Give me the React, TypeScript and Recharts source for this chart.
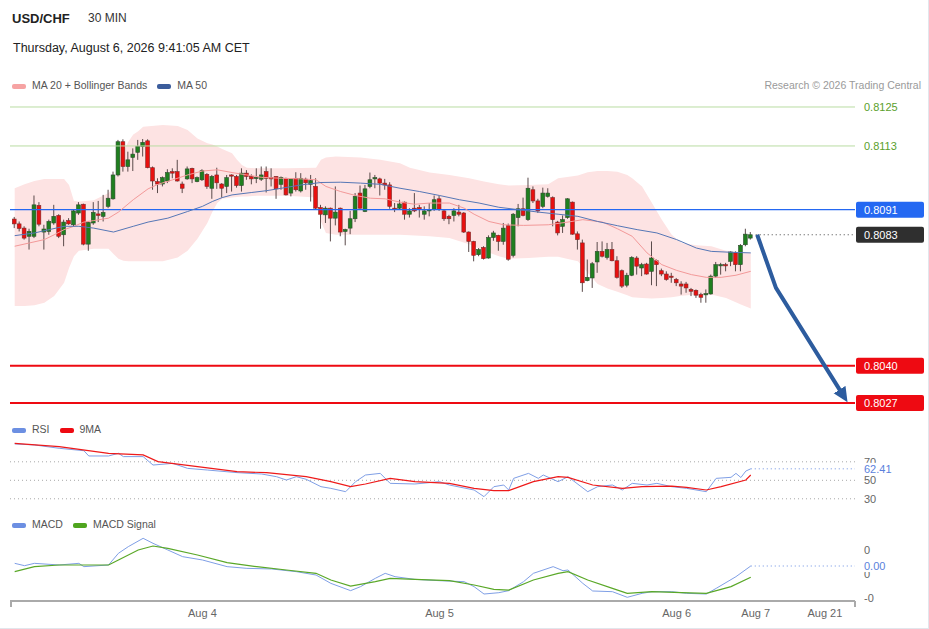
import React from "react";
import {
  ComposedChart,
  Bar,
  Line,
  Area,
  XAxis,
  YAxis,
  ReferenceLine,
} from "recharts";

const FONT = '"Liberation Sans", Arial, Helvetica, sans-serif';

// 30 min candles, Aug 3 morning -> Aug 6 09:30
const candleOpen = [
  0.80879, 0.80863, 0.80849, 0.80822, 0.80822, 0.80924, 0.80836, 0.80838, 0.80866, 0.80891,
  0.80827, 0.80874, 0.8086, 0.80899, 0.80928, 0.80796, 0.80866, 0.80896, 0.80888, 0.80921,
  0.80946, 0.81025, 0.81135, 0.81053, 0.81083, 0.811, 0.81119, 0.81138, 0.81049, 0.81003,
  0.80995, 0.81005, 0.81036, 0.81036, 0.80995, 0.81012, 0.81047, 0.81003, 0.81009, 0.81027,
  0.80981, 0.81025, 0.80995, 0.80987, 0.81025, 0.8102, 0.8099, 0.81031, 0.8102, 0.81014,
  0.81011, 0.81036, 0.81016, 0.8102, 0.80994, 0.81014, 0.80965, 0.81014, 0.80972, 0.81011,
  0.80994, 0.80987, 0.80917, 0.80893, 0.80915, 0.80882, 0.80915, 0.80838, 0.80849, 0.8088,
  0.80965, 0.80904, 0.80987, 0.81012, 0.81012, 0.80998, 0.80992, 0.80915, 0.80915, 0.80935,
  0.80895, 0.80915, 0.80917, 0.80895, 0.80906, 0.8091, 0.80946, 0.80906, 0.80888, 0.80891,
  0.80902, 0.80899, 0.80836, 0.80805, 0.80761, 0.80785, 0.8075, 0.80818, 0.80825, 0.80805,
  0.80857, 0.80759, 0.80884, 0.80913, 0.80877, 0.80976, 0.80939, 0.80921, 0.80954, 0.8095,
  0.80869, 0.80855, 0.80884, 0.80935, 0.8083, 0.808, 0.80675, 0.80684, 0.80737, 0.80772,
  0.80752, 0.80778, 0.80741, 0.80708, 0.8066, 0.80693, 0.8075, 0.80717, 0.8073, 0.80706,
  0.80741, 0.80708, 0.80697, 0.8069, 0.80679, 0.80664, 0.80664, 0.80646, 0.80643, 0.80629,
  0.80629, 0.80631, 0.8069, 0.80725, 0.80728, 0.80739, 0.80767, 0.80728, 0.80794, 0.80816,
];
const candleHigh = [
  0.80886, 0.80871, 0.80855, 0.80847, 0.80957, 0.80935, 0.8086, 0.80877, 0.80926, 0.80895,
  0.80877, 0.80882, 0.8091, 0.80935, 0.8093, 0.80871, 0.80935, 0.80939, 0.80959, 0.80976,
  0.81036, 0.81141, 0.81143, 0.81102, 0.81113, 0.81141, 0.81144, 0.81143, 0.81053, 0.81014,
  0.8102, 0.81044, 0.81047, 0.81075, 0.81003, 0.81053, 0.81049, 0.8102, 0.81044, 0.81031,
  0.81025, 0.81049, 0.80998, 0.81025, 0.81027, 0.81025, 0.81047, 0.81041, 0.81027, 0.81047,
  0.81053, 0.81053, 0.81047, 0.81021, 0.8102, 0.81016, 0.81014, 0.81034, 0.81031, 0.81016,
  0.81025, 0.81014, 0.80926, 0.80921, 0.80917, 0.80987, 0.80917, 0.80847, 0.80906, 0.80965,
  0.8099, 0.80992, 0.81033, 0.81025, 0.81016, 0.81012, 0.81001, 0.80932, 0.80943, 0.80937,
  0.80915, 0.80965, 0.80926, 0.80921, 0.80932, 0.80957, 0.80957, 0.8091, 0.80893, 0.80915,
  0.80926, 0.80902, 0.80838, 0.80807, 0.80783, 0.80789, 0.80825, 0.8084, 0.80827, 0.80866,
  0.80864, 0.80899, 0.80929, 0.8095, 0.81016, 0.80987, 0.80946, 0.80983, 0.80981, 0.80954,
  0.80873, 0.80891, 0.80948, 0.80937, 0.80838, 0.80811, 0.80745, 0.80737, 0.80803, 0.80805,
  0.808, 0.80803, 0.80756, 0.80712, 0.80701, 0.80756, 0.80756, 0.80734, 0.80734, 0.80805,
  0.80745, 0.80715, 0.80706, 0.80701, 0.80684, 0.80673, 0.80671, 0.80651, 0.80646, 0.80635,
  0.80646, 0.80695, 0.80737, 0.80734, 0.80734, 0.80772, 0.80772, 0.80796, 0.80847, 0.80836,
];
const candleLow = [
  0.80849, 0.80838, 0.80811, 0.80778, 0.80816, 0.80855, 0.80778, 0.80827, 0.8086, 0.80816,
  0.80789, 0.8086, 0.80855, 0.80893, 0.80792, 0.80774, 0.8086, 0.80869, 0.80871, 0.80915,
  0.80943, 0.8102, 0.81036, 0.81036, 0.81038, 0.81075, 0.81086, 0.81047, 0.80976, 0.80965,
  0.80987, 0.80998, 0.81014, 0.81003, 0.80965, 0.81009, 0.80998, 0.81001, 0.81005, 0.80979,
  0.80946, 0.80979, 0.8095, 0.80965, 0.8097, 0.80983, 0.8097, 0.81009, 0.80994, 0.80998,
  0.81005, 0.80967, 0.80987, 0.80946, 0.80976, 0.80957, 0.80954, 0.8097, 0.80967, 0.80976,
  0.80937, 0.8091, 0.80847, 0.80866, 0.80805, 0.80858, 0.80822, 0.80792, 0.80829, 0.80869,
  0.80913, 0.80902, 0.80981, 0.80981, 0.80957, 0.80976, 0.80913, 0.80902, 0.8091, 0.80877,
  0.80884, 0.80902, 0.80884, 0.80877, 0.80888, 0.80906, 0.80906, 0.80873, 0.80862, 0.80871,
  0.80888, 0.80833, 0.8077, 0.80739, 0.80756, 0.80745, 0.80748, 0.80807, 0.80774, 0.80794,
  0.80741, 0.80752, 0.80855, 0.80888, 0.80873, 0.80932, 0.80899, 0.80915, 0.8095, 0.80855,
  0.80825, 0.80833, 0.8088, 0.80827, 0.80778, 0.80638, 0.80673, 0.80651, 0.80701, 0.80752,
  0.80745, 0.80739, 0.80682, 0.80651, 0.80653, 0.8069, 0.80695, 0.8069, 0.80695, 0.8066,
  0.80657, 0.8069, 0.80675, 0.80668, 0.80657, 0.80629, 0.80635, 0.80624, 0.80618, 0.80602,
  0.80602, 0.80629, 0.80684, 0.80695, 0.80706, 0.80723, 0.80706, 0.80706, 0.80789, 0.80811,
];
const candleClose = [
  0.80863, 0.80848, 0.80816, 0.80838, 0.80926, 0.80862, 0.80846, 0.80871, 0.80888, 0.80822,
  0.80869, 0.80863, 0.80906, 0.80926, 0.80796, 0.80868, 0.80901, 0.80891, 0.80901, 0.80948,
  0.81025, 0.81135, 0.81053, 0.81075, 0.81094, 0.8112, 0.81133, 0.81049, 0.81005, 0.80995,
  0.81016, 0.81033, 0.81031, 0.81005, 0.80981, 0.81045, 0.81012, 0.81016, 0.81039, 0.80987,
  0.8102, 0.80999, 0.80981, 0.81016, 0.81022, 0.8099, 0.81031, 0.8102, 0.81012, 0.81017,
  0.81025, 0.81014, 0.81012, 0.80979, 0.81017, 0.80959, 0.81012, 0.80976, 0.81014, 0.80999,
  0.81006, 0.80915, 0.80895, 0.80915, 0.80882, 0.80902, 0.80836, 0.80844, 0.8088, 0.80954,
  0.80915, 0.80979, 0.81009, 0.81016, 0.80998, 0.80992, 0.80921, 0.8091, 0.80929, 0.80895,
  0.80906, 0.80906, 0.8091, 0.80906, 0.8091, 0.80943, 0.8091, 0.8088, 0.8088, 0.80906,
  0.80895, 0.80836, 0.80805, 0.80759, 0.80778, 0.80748, 0.80818, 0.80833, 0.80805, 0.80849,
  0.80746, 0.80895, 0.80913, 0.80891, 0.80981, 0.80939, 0.80906, 0.80965, 0.80965, 0.80877,
  0.80833, 0.80877, 0.80946, 0.80829, 0.80811, 0.80668, 0.80686, 0.80731, 0.80772, 0.80756,
  0.80778, 0.80741, 0.80686, 0.80657, 0.80693, 0.80752, 0.80723, 0.80728, 0.80697, 0.8075,
  0.80728, 0.80697, 0.80679, 0.80686, 0.80668, 0.80657, 0.80651, 0.8064, 0.80627, 0.8062,
  0.80632, 0.8069, 0.80728, 0.80728, 0.80724, 0.8077, 0.80728, 0.80792, 0.80829, 0.80827,
];

// Bollinger bands (20) sampled at candle indices
const bbIdx = [
  0, 2, 4, 6, 8, 10, 11, 12, 13, 16, 19, 20, 21, 22, 23, 24, 25, 26, 30, 33, 35, 37, 39, 40,
  41, 42, 44, 45, 46, 47, 49, 55, 61, 62, 63, 65, 70, 74, 78, 80, 84, 88, 92, 95, 98, 100,
  104, 108, 110, 114, 116, 118, 120, 122, 124, 125, 127, 129, 131, 133, 135, 138, 141, 144,
  147, 149,
];
const bbUpper = [
  0.80981, 0.80994, 0.81005, 0.81012, 0.81012, 0.81012, 0.80992, 0.80939, 0.80937, 0.80941,
  0.80965, 0.80987, 0.81047, 0.81102, 0.81135, 0.81159, 0.8117, 0.81185, 0.8119, 0.81187,
  0.81174, 0.81146, 0.8113, 0.81126, 0.81119, 0.81111, 0.81097, 0.81075, 0.81058, 0.81049,
  0.81047, 0.81047, 0.81049, 0.81075, 0.81083, 0.81086, 0.81083, 0.81075, 0.81064, 0.81049,
  0.81033, 0.81025, 0.81014, 0.81003, 0.80994, 0.8099, 0.80992, 0.80994, 0.81014, 0.81023,
  0.81034, 0.81038, 0.81038, 0.81036, 0.81025, 0.81014, 0.80987, 0.80932, 0.80877, 0.80827,
  0.808, 0.80792, 0.80789, 0.80774, 0.80769, 0.80767,
];
const bbLower = [
  0.80591, 0.80591, 0.80594, 0.80602, 0.80624, 0.80668, 0.80717, 0.80756, 0.80774, 0.80781,
  0.80781, 0.80763, 0.80748, 0.80741, 0.80739, 0.80739, 0.80739, 0.80739, 0.80739, 0.80752,
  0.80774, 0.80814, 0.80866, 0.80902, 0.80932, 0.80946, 0.8095, 0.80952, 0.80954, 0.80954,
  0.80956, 0.80956, 0.8095, 0.80871, 0.80833, 0.80827, 0.80827, 0.80827, 0.80827, 0.80825,
  0.80822, 0.80816, 0.80796, 0.80774, 0.80756, 0.80748, 0.8075, 0.80754, 0.80754, 0.80739,
  0.80701, 0.80664, 0.80649, 0.80638, 0.80627, 0.8062, 0.80618, 0.80616, 0.80618, 0.8062,
  0.80625, 0.80629, 0.80629, 0.80618, 0.80596, 0.80583,
];

const ma20Idx = [
  0, 3, 6, 8, 10, 12, 14, 16, 19, 21, 24, 27, 29, 32, 35, 38, 41, 44, 47, 50, 54, 58, 61, 63,
  66, 69, 72, 75, 78, 81, 84, 88, 91, 93, 96, 99, 103, 108, 112, 115, 119, 122, 125, 128, 131,
  134, 137, 140, 143, 146, 149,
];
const ma20Val = [
  0.80789, 0.808, 0.80811, 0.80827, 0.80844, 0.80855, 0.80869, 0.80874, 0.80882, 0.80902,
  0.80943, 0.80979, 0.80994, 0.81009, 0.81025, 0.81038, 0.81042, 0.81033, 0.81025, 0.81017,
  0.81014, 0.81012, 0.81009, 0.80987, 0.8097, 0.80957, 0.80948, 0.80946, 0.80935, 0.80928,
  0.80932, 0.80932, 0.80915, 0.80895, 0.80871, 0.8086, 0.80858, 0.8086, 0.80869, 0.80877,
  0.80869, 0.80847, 0.80822, 0.80767, 0.80728, 0.80709, 0.80695, 0.80686, 0.80686, 0.80693,
  0.80706,
];

const ma50Idx = [
  0, 4, 7, 10, 13, 16, 20, 24, 27, 31, 35, 38, 40, 42, 44, 48, 51, 54, 58, 62, 66, 70, 74, 78,
  82, 86, 90, 94, 98, 102, 106, 110, 114, 118, 122, 126, 130, 134, 138, 141, 145, 149,
];
const ma50Val = [
  0.80824, 0.80833, 0.80844, 0.80855, 0.80855, 0.80849, 0.80836, 0.80855, 0.80869, 0.80882,
  0.80904, 0.80921, 0.80937, 0.8095, 0.80959, 0.80967, 0.80973, 0.80981, 0.80992, 0.81,
  0.81001, 0.80998, 0.80994, 0.80981, 0.8097, 0.80957, 0.80943, 0.80932, 0.80918, 0.8091,
  0.80902, 0.80895, 0.80888, 0.80871, 0.80857, 0.80844, 0.80833, 0.80811, 0.80783, 0.80772,
  0.80769, 0.80767,
];

// forecast arrow (index on the time axis, price)
const arrowIdx = [150.3, 154.1, 167.3];
const arrowPrice = [0.80827, 0.80651, 0.80306];

// key levels
const levelPrices = [0.8125, 0.81121, 0.8091, 0.80393, 0.8027];
const levelLabels = ["0.8125", "0.8113", "0.8091", "0.8040", "0.8027"];
const lastPrice = 0.80827;
const lastPriceLabel = "0.8083";

const rsiIdx = [
  0, 4, 9, 14, 15, 19, 21, 22, 26, 28, 32, 35, 39, 45, 50, 53, 55, 57, 59, 62, 64, 67, 69, 71,
  74, 76, 81, 86, 88, 93, 95, 97, 99, 100, 101, 104, 106, 107, 110, 112, 116, 118, 121, 123,
  125, 128, 130, 133, 136, 140, 142, 145, 146, 147, 148, 149,
];
const rsiVal = [
  89.3, 88.2, 84.6, 82.0, 76.3, 76.3, 79.2, 75.6, 75.6, 66.5, 68.3, 62.9, 61.1, 58.3, 56.8,
  53.9, 50.3, 53.9, 51.1, 43.1, 41.3, 37.7, 48.5, 55.7, 57.5, 46.7, 46.0, 48.5, 44.9, 39.5,
  32.3, 43.1, 44.9, 39.5, 52.1, 57.5, 52.1, 55.7, 48.5, 53.9, 37.7, 43.1, 44.9, 39.5, 46.7,
  44.9, 46.7, 43.1, 41.3, 37.7, 52.1, 53.2, 57.5, 53.0, 60.0, 62.41,
];
const rsiMaIdx = [
  0, 9, 19, 26, 29, 37, 45, 51, 59, 64, 68, 71, 76, 81, 88, 93, 97, 100, 105, 110, 112, 117,
  123, 127, 133, 136, 140, 143, 148, 149,
];
const rsiMaVal = [
  90.0, 86.4, 79.2, 77.4, 70.2, 64.7, 59.3, 58.3, 53.9, 48.5, 43.1, 46.0, 52.1, 48.5, 46.7,
  41.3, 38.8, 38.8, 48.5, 53.9, 53.2, 44.9, 41.3, 43.1, 43.8, 42.4, 39.5, 43.1, 50.3, 55.7,
];
const rsiLevels = [70, 50, 30];
const rsiLast = 62.41;

const macdIdx = [
  0, 2, 4, 9, 13, 14, 19, 21, 23, 26, 28, 31, 34, 38, 43, 47, 52, 57, 61, 64, 68, 70, 73, 75,
  77, 81, 86, 91, 93, 95, 98, 100, 103, 105, 109, 111, 112, 115, 117, 121, 124, 127, 129, 133,
  136, 140, 142, 146, 149,
];
const macdVal = [
  0.000219, 0.000171, 0.000219, 0.000185, 0.000219, 0.000151, 0.000185, 0.000425, 0.000562,
  0.000733, 0.00063, 0.000493, 0.000356, 0.000288, 0.000151, 0.000116, 0.000103, 0.000048,
  -0.000021, -0.000192, -0.000342, -0.00026, -0.000089, 0.000014, -0.000055, -0.00011,
  -0.000137, -0.000158, -0.00026, -0.000411, -0.000384, -0.000342, -0.000158, 0.000014,
  0.000151, 0.000068, 0.000082, -0.000192, -0.000349, -0.000363, -0.000479, -0.000397,
  -0.000363, -0.000363, -0.000397, -0.000411, -0.000295, -0.000055, 0.000164,
];
const signalIdx = [
  0, 4, 9, 19, 21, 25, 28, 31, 37, 43, 49, 55, 61, 64, 68, 73, 76, 81, 88, 93, 97, 100, 105,
  110, 112, 116, 121, 124, 129, 135, 140, 145, 149,
];
const signalVal = [
  0.000048, 0.000151, 0.000185, 0.000185, 0.000288, 0.000493, 0.000575, 0.000527, 0.00039,
  0.000233, 0.000151, 0.000082, 0.000014, -0.000123, -0.000247, -0.000158, -0.000089,
  -0.00011, -0.000137, -0.000226, -0.000315, -0.000329, -0.000123, 0.000014, 0.000048,
  -0.000123, -0.000295, -0.000397, -0.000363, -0.000384, -0.000397, -0.00026, -0.000068,
];
const macdTicks = [0.0005, 0, -0.0005];
const macdTickLabels = ["0", "0", "-0"];
const macdLastLabel = "0.00";

const tickIdx = [38, 86, 134, 150, 164];
const tickLabels = ["Aug 4", "Aug 5", "Aug 6", "Aug 7", "Aug 21"];

const X_DOMAIN: [number, number] = [-0.95, 170.1];
const PRICE_DOMAIN: [number, number] = [0.802303, 0.812897];
const RSI_DOMAIN: [number, number] = [20.05, 95.73];
const MACD_DOMAIN: [number, number] = [-0.0005544, 0.0008008];
const MARGIN = { top: 0, right: 74, bottom: 0, left: 10 };

const levelStyle = [
  { line: "#b9dca2", width: 1, text: "#5aa02c", box: "" },
  { line: "#b9dca2", width: 1, text: "#5aa02c", box: "" },
  { line: "#2468f2", width: 1.3, text: "#ffffff", box: "#2468f2" },
  { line: "#ee0a12", width: 2, text: "#ffffff", box: "#ee0a12" },
  { line: "#ee0a12", width: 2, text: "#ffffff", box: "#ee0a12" },
];

const candles = candleOpen.map((o, i) => ({
  i,
  o,
  h: candleHigh[i],
  l: candleLow[i],
  c: candleClose[i],
  range: [candleLow[i], candleHigh[i]],
}));
const bandData = bbIdx.map((i, k) => ({ i, band: [bbLower[k], bbUpper[k]] }));
const ma20Data = ma20Idx.map((i, k) => ({ i, v: ma20Val[k] }));
const ma50Data = ma50Idx.map((i, k) => ({ i, v: ma50Val[k] }));
const arrowData = arrowIdx.map((i, k) => ({ i, v: arrowPrice[k] }));
const rsiData = rsiIdx.map((i, k) => ({ i, v: rsiVal[k] }));
const rsiMaData = rsiMaIdx.map((i, k) => ({ i, v: rsiMaVal[k] }));
const macdData = macdIdx.map((i, k) => ({ i, v: macdVal[k] }));
const signalData = signalIdx.map((i, k) => ({ i, v: signalVal[k] }));

function Candle(props: any) {
  const { x, y, width, height, payload } = props;
  if (!payload) return null;
  const { o, c, h, l } = payload;
  const top = Math.min(y, y + height);
  const hgt = Math.abs(height);
  const k = h - l > 0 ? hgt / (h - l) : 0;
  const yO = top + (h - o) * k;
  const yC = top + (h - c) * k;
  const up = c >= o;
  const cx = x + width / 2;
  const bTop = Math.min(yO, yC);
  const bH = Math.max(Math.abs(yO - yC), 1.2);
  return (
    <g>
      <line x1={cx} x2={cx} y1={top} y2={top + hgt} stroke="#5a4a4a" strokeWidth={1} />
      <rect
        x={cx - 1.9}
        y={bTop}
        width={3.8}
        height={bH}
        fill={up ? "#1f7f1f" : "#e8100f"}
        stroke={up ? "#2c4a2c" : "#7a2a2a"}
        strokeWidth={0.6}
      />
    </g>
  );
}

// value tag drawn just right of the plot; box = filled tag, mask = white backing
function sideLabel(text: string, color: string, box: string, mask = false) {
  return (props: any) => {
    const vb = props.viewBox || {};
    const x = (vb.x ?? 0) + (vb.width ?? 0);
    const y = vb.y ?? 0;
    return (
      <g>
        {box ? <rect x={x + 1} y={y - 8} width={68} height={16} rx={2} fill={box} /> : null}
        {mask ? <rect x={x + 6} y={y - 6} width={36} height={12} fill="#ffffff" /> : null}
        <text x={x + 9} y={y + 4} fill={color} fontSize={11} fontFamily={FONT}>
          {text}
        </text>
      </g>
    );
  };
}

function Swatch({ color }: { color: string }) {
  return (
    <span
      style={{
        display: "inline-block",
        width: 14,
        height: 5,
        borderRadius: 2,
        background: color,
        marginRight: 6,
        verticalAlign: "middle",
      }}
    />
  );
}

const txt = (top: number, left: number, size: number, extra: React.CSSProperties = {}) => ({
  position: "absolute" as const,
  top,
  left,
  fontSize: size,
  lineHeight: `${size + 2}px`,
  fontFamily: FONT,
  whiteSpace: "nowrap" as const,
  ...extra,
});

export default function App() {
  return (
    <div
      style={{
        position: "absolute",
        left: 0,
        top: 0,
        width: 928,
        height: 628,
        background: "#fff",
        borderRight: "1px solid #e2e6ec",
        borderBottom: "1px solid #e2e6ec",
        overflow: "hidden",
        fontFamily: FONT,
      }}
    >
      <div style={txt(11, 12, 13, { fontWeight: "bold", color: "#222" })}>USD/CHF</div>
      <div style={txt(11, 88, 12, { color: "#333" })}>30 MIN</div>
      <div style={txt(41, 13, 12.5, { color: "#222" })}>
        Thursday, August 6, 2026 9:41:05 AM CET
      </div>

      <div style={txt(79, 12, 10.5, { color: "#555" })}>
        <Swatch color="#f6a3a3" />
        MA 20 + Bollinger Bands
        <span style={{ display: "inline-block", width: 10 }} />
        <Swatch color="#3c5d9c" />
        MA 50
      </div>
      <div style={txt(79, 0, 10.5, { color: "#9a9a9a", left: undefined, right: 7 })}>
        Research © 2026 Trading Central
      </div>

      {/* price panel */}
      <div style={{ position: "absolute", left: 0, top: 95 }}>
        <ComposedChart width={929} height={320} data={candles} margin={MARGIN}>
          <defs>
            <marker
              id="arrowHead"
              markerUnits="userSpaceOnUse"
              markerWidth={16}
              markerHeight={16}
              refX={3}
              refY={8}
              orient="auto"
            >
              <path d="M0,1 L15,8 L0,15 z" fill="#2d5c9e" />
            </marker>
          </defs>
          <XAxis dataKey="i" type="number" domain={X_DOMAIN} hide allowDataOverflow />
          <YAxis type="number" domain={PRICE_DOMAIN} hide allowDataOverflow />
          <Area
            data={bandData}
            dataKey="band"
            stroke="none"
            fill="#fde3e3"
            fillOpacity={1}
            isAnimationActive={false}
          />
          {levelPrices.map((p, k) => (
            <ReferenceLine
              key={k}
              y={p}
              stroke={levelStyle[k].line}
              strokeWidth={levelStyle[k].width}
              label={sideLabel(levelLabels[k], levelStyle[k].text, levelStyle[k].box)}
            />
          ))}
          <ReferenceLine
            segment={[
              { x: 150, y: lastPrice },
              { x: X_DOMAIN[1], y: lastPrice },
            ]}
            stroke="#444"
            strokeDasharray="1 3"
            label={sideLabel(lastPriceLabel, "#ffffff", "#2f2f2f")}
          />
          <Line
            data={ma20Data}
            dataKey="v"
            stroke="#f39999"
            strokeWidth={1}
            dot={false}
            isAnimationActive={false}
          />
          <Line
            data={ma50Data}
            dataKey="v"
            stroke="#5677b6"
            strokeWidth={1}
            dot={false}
            isAnimationActive={false}
          />
          <Bar dataKey="range" barSize={4} shape={Candle} isAnimationActive={false} />
          <Line
            data={arrowData}
            dataKey="v"
            stroke="#2d5c9e"
            strokeWidth={4}
            dot={false}
            markerEnd="url(#arrowHead)"
            isAnimationActive={false}
          />
        </ComposedChart>
      </div>

      {/* RSI panel */}
      <div style={txt(423, 12, 10.5, { color: "#555" })}>
        <Swatch color="#6c8fe2" />
        RSI
        <span style={{ display: "inline-block", width: 10 }} />
        <Swatch color="#ee0a12" />
        9MA
      </div>
      <div style={{ position: "absolute", left: 0, top: 438 }}>
        <ComposedChart width={929} height={70} data={rsiData} margin={MARGIN}>
          <XAxis dataKey="i" type="number" domain={X_DOMAIN} hide allowDataOverflow />
          <YAxis type="number" domain={RSI_DOMAIN} hide allowDataOverflow />
          {rsiLevels.map((lv) => (
            <ReferenceLine
              key={lv}
              y={lv}
              stroke="#a8a8a8"
              strokeDasharray="1 3"
              label={sideLabel(String(lv), "#666", "")}
            />
          ))}
          <ReferenceLine
            segment={[
              { x: 149, y: rsiLast },
              { x: X_DOMAIN[1], y: rsiLast },
            ]}
            stroke="#6c8fe2"
            strokeDasharray="1 3"
            label={sideLabel(rsiLast.toFixed(2), "#5b7fdc", "", true)}
          />
          <Line
            dataKey="v"
            stroke="#7f9fe6"
            strokeWidth={1}
            dot={false}
            isAnimationActive={false}
          />
          <Line
            data={rsiMaData}
            dataKey="v"
            stroke="#ee1a1a"
            strokeWidth={1.2}
            dot={false}
            isAnimationActive={false}
          />
        </ComposedChart>
      </div>

      {/* MACD panel */}
      <div style={txt(518, 12, 10.5, { color: "#555" })}>
        <Swatch color="#6c8fe2" />
        MACD
        <span style={{ display: "inline-block", width: 10 }} />
        <Swatch color="#4fa51e" />
        MACD Signal
      </div>
      <div style={{ position: "absolute", left: 0, top: 535 }}>
        <ComposedChart width={929} height={94} data={macdData} margin={MARGIN}>
          <XAxis
            dataKey="i"
            type="number"
            domain={X_DOMAIN}
            allowDataOverflow
            ticks={tickIdx}
            interval={0}
            tickFormatter={(v: number) => tickLabels[tickIdx.indexOf(v)] ?? ""}
            tick={{ fill: "#666", fontSize: 11, fontFamily: FONT }}
            tickLine={false}
            axisLine={{ stroke: "#aaaaaa", strokeWidth: 2 }}
            height={28}
          />
          <YAxis type="number" domain={MACD_DOMAIN} hide allowDataOverflow />
          {macdTicks.map((t, k) => (
            <ReferenceLine
              key={k}
              y={t}
              stroke="none"
              label={sideLabel(macdTickLabels[k], "#666", "")}
            />
          ))}
          <ReferenceLine
            segment={[
              { x: 149, y: macdVal[macdVal.length - 1] },
              { x: X_DOMAIN[1], y: macdVal[macdVal.length - 1] },
            ]}
            stroke="#6c8fe2"
            strokeDasharray="1 3"
            label={sideLabel(macdLastLabel, "#5b7fdc", "", true)}
          />
          <Line
            dataKey="v"
            stroke="#7f9fe6"
            strokeWidth={1}
            dot={false}
            isAnimationActive={false}
          />
          <Line
            data={signalData}
            dataKey="v"
            stroke="#5aa828"
            strokeWidth={1.2}
            dot={false}
            isAnimationActive={false}
          />
        </ComposedChart>
      </div>
      <div style={{ position: "absolute", left: 10, top: 601, width: 2, height: 6, background: "#aaa" }} />
      <div style={{ position: "absolute", left: 854, top: 601, width: 2, height: 6, background: "#aaa" }} />
    </div>
  );
}
